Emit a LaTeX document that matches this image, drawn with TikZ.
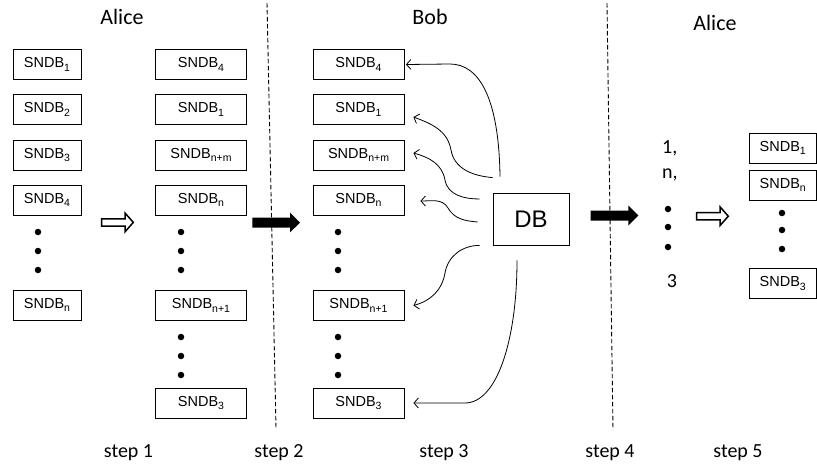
\documentclass[tikz,border=0pt]{standalone}
\usepackage{fontspec}
\setmainfont{Carlito}
\newfontfamily\arialf{Liberation Sans}
\usetikzlibrary{arrows.meta,calc}
\newcommand{\sn}[1]{SNDB\raisebox{-0.45ex}{\fontsize{10.5}{10.5}\selectfont#1}}
\begin{document}
\begin{tikzpicture}[x=1pt,y=-1pt,
 sbox/.style={draw, line width=0.8pt, minimum height=30pt, inner sep=0pt, font=\arialf\fontsize{14.5}{16}\selectfont},
 narrowbox/.style={sbox, minimum width=68pt},
 widebox/.style={sbox, minimum width=91pt},
 dotn/.style={circle, fill=black, inner sep=0pt, minimum size=6.5pt},
 lbl/.style={font=\fontsize{20}{24}\selectfont, inner sep=0pt, anchor=base},
 ttl/.style={lbl, font=\fontsize{22}{26}\selectfont},
 conn/.style={line width=0.8pt, -{Straight Barb[length=4.5pt,width=10pt]}},
 sepline/.style={dash pattern=on 4.5pt off 2.5pt, line width=0.9pt},
 hollowarrow/.style={draw, line width=1.5pt, line join=miter, fill=white},
 blackarrow/.style={fill=black}
]
\useasboundingbox (0,0) rectangle (817,466);

% titles
\node[ttl] (alice1) at (122,24) {Alice};
\node[ttl] (bob) at (430,24) {Bob};
\node[ttl] (alice2) at (715,30) {Alice};

% step labels
\node[lbl] (st1) at (128.5,457) {step 1};
\node[lbl] (st2) at (279,457) {step 2};
\node[lbl] (st3) at (444,457) {step 3};
\node[lbl] (st4) at (610,457) {step 4};
\node[lbl] (st5) at (738,457) {step 5};

% separators
\coordinate (d1t) at (267,3); \coordinate (d1b) at (276,428);
\coordinate (d2t) at (607,3); \coordinate (d2b) at (613,430);

% column 1
\node[narrowbox] (a1) at (47,64.5) {\sn{1}};
\node[narrowbox] (a2) at (47,109.5) {\sn{2}};
\node[narrowbox] (a3) at (47,155) {\sn{3}};
\node[narrowbox] (a4) at (47,200) {\sn{4}};
\node[narrowbox] (an) at (47,305) {\sn{n}};
\foreach \y [count=\i] in {232,251,270} \node[dotn] (ad\i) at (38,\y) {};

% column 2
\node[widebox] (b1) at (201,64.5) {\sn{4}};
\node[widebox] (b2) at (201,109.5) {\sn{1}};
\node[widebox] (b3) at (201,155) {\sn{n+m}};
\node[widebox] (b4) at (201,200) {\sn{n}};
\node[widebox] (b5) at (201,305.5) {\sn{n+1}};
\node[widebox] (b6) at (201,403) {\sn{3}};
\foreach \y [count=\i] in {232,251,270,337,356,375} \node[dotn] (bd\i) at (181,\y) {};

% column 3
\node[widebox] (c1) at (358.5,64.5) {\sn{4}};
\node[widebox] (c2) at (358.5,109.5) {\sn{1}};
\node[widebox] (c3) at (358.5,155) {\sn{n+m}};
\node[widebox] (c4) at (358.5,200) {\sn{n}};
\node[widebox] (c5) at (358.5,305.5) {\sn{n+1}};
\node[widebox] (c6) at (358.5,403) {\sn{3}};
\foreach \y [count=\i] in {232,251,270,337,356,375} \node[dotn] (cd\i) at (338,\y) {};

% DB
\node[draw, line width=0.8pt, minimum width=76pt, minimum height=52pt, inner sep=0pt,
      font=\arialf\fontsize{24}{28}\selectfont] (db) at (531,219) {DB};

% column 4
\node[lbl, anchor=base west] (i1) at (662,153) {1,};
\node[lbl, anchor=base west] (in) at (662,178) {n,};
\foreach \y [count=\i] in {209,227,247} \node[dotn] (dd\i) at (668,\y) {};
\node[lbl] (i3) at (672,287) {3};

% column 5
\node[narrowbox, minimum width=67.5pt] (e1) at (782.75,148) {\sn{1}};
\node[narrowbox, minimum width=67.5pt] (en) at (782.75,185) {\sn{n}};
\node[narrowbox, minimum width=67.5pt] (e3) at (782.75,283.5) {\sn{3}};
\foreach \y [count=\i] in {213,230,249} \node[dotn] (ed\i) at (782,\y) {};

% block arrows
\draw[hollowarrow] (101.7,218.8) -- (125,218.8) -- (125,213) -- (133.3,222.4) -- (125,231.8) -- (125,226.2) -- (101.7,226.2) -- cycle;
\fill[blackarrow] (252.3,217.5) -- (290,217.5) -- (290,212.7) -- (300,222.6) -- (290,232.4) -- (290,227.5) -- (252.3,227.5) -- cycle;
\fill[blackarrow] (590.7,210.5) -- (628.3,210.5) -- (628.3,205.5) -- (638.3,215.5) -- (628.3,225.5) -- (628.3,220.5) -- (590.7,220.5) -- cycle;
\draw[hollowarrow] (696.7,212.5) -- (720,212.5) -- (720,206.8) -- (728.3,216.2) -- (720,225.6) -- (720,219.9) -- (696.7,219.9) -- cycle;

% separators drawn
\draw[sepline] (d1t) -- (d1b);
\draw[sepline] (d2t) -- (d2b);

% connectors from DB
\coordinate (s1) at ($(db.north)+(-31,-16)$);
\coordinate (s2) at ($(db.north west)+(0,-15)$);
\coordinate (s3) at ($(db.west)+(-13,-20)$);
\coordinate (s4) at ($(db.west)+(-15,3)$);
\coordinate (s5) at ($(db.south west)+(-13,0)$);
\coordinate (s6) at ($(db.south)+(-14,15)$);

\draw[conn] (s1) .. controls (499,100) and (480,64) .. (450,64) -- ($(c1.east)+(1.5,0)$);
\draw[conn] (s2) to[out=175,in=-80] (451,150) to[out=100,in=-20] ($(c2.east)+(9,7.5)$);
\draw[conn] (s3) to[out=180,in=-80] (445,180) to[out=100,in=-15] ($(c3.east)+(9,-2)$);
\draw[conn] (s4) to[out=175,in=-60] (448,208) to[out=120,in=0] ($(c4.east)+(16,1)$);
\draw[conn] (s5) to[out=180,in=80] (445,273) to[out=-100,in=15] ($(c5.east)+(9,0)$);
\draw[conn] (s6) .. controls (517,340) and (497,403) .. (465,403) -- ($(c6.east)+(9,0)$);
\end{tikzpicture}
\end{document}
